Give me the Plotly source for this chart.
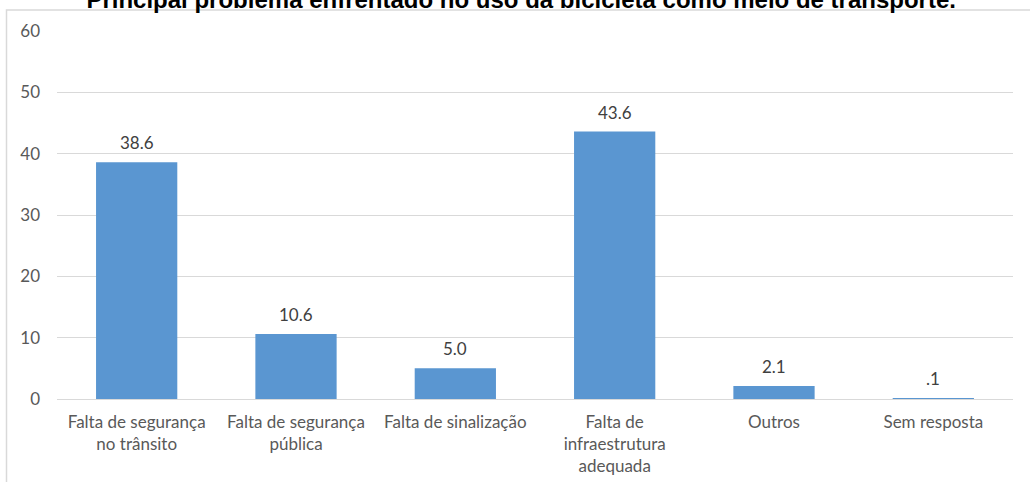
import plotly.graph_objects as go

# Data
categories = [
    "Falta de segurança<br>no trânsito",
    "Falta de segurança<br>pública",
    "Falta de sinalização",
    "Falta de<br>infraestrutura<br>adequada",
    "Outros",
    "Sem resposta",
]
values = [38.6, 10.6, 5.0, 43.6, 2.1, 0.1]
value_labels = ["38.6", "10.6", "5.0", "43.6", "2.1", ".1"]

title_text = "Principal problema enfrentado no uso da bicicleta como meio de transporte."

bar = go.Bar(
    x=categories,
    y=values,
    marker=dict(color="#5a96d1", line=dict(width=0)),
    hoverinfo="x+y",
)

# value labels sit a little higher above the bars than plotly's default
labels = [
    dict(
        x=c, y=v, text=t, xref="x", yref="y",
        showarrow=False, yanchor="bottom", yshift=7,
        font=dict(family="Lato", size=17, color="#404040"),
    )
    for c, v, t in zip(categories, values, value_labels)
]

layout = go.Layout(
    width=1030,
    height=482,
    margin=dict(l=57, r=17, t=31, b=83, autoexpand=False),
    paper_bgcolor="white",
    plot_bgcolor="white",
    showlegend=False,
    bargap=0.49,
    font=dict(family="Lato", size=17, color="#595959"),
    title=dict(
        text="<b>" + title_text + "</b>",
        font=dict(family="Liberation Sans", size=24, color="black"),
        x=0.506,
        xanchor="center",
        y=1 - 8 / 482,
        yanchor="bottom",
        yref="container",
    ),
    xaxis=dict(
        showgrid=False,
        showline=False,
        ticks="",
        automargin=False,
        ticklabelstandoff=11,
        tickfont=dict(family="Lato", size=17, color="#595959"),
    ),
    yaxis=dict(
        range=[0, 60],
        dtick=10,
        showgrid=True,
        gridcolor="#d9d9d9",
        gridwidth=1,
        zeroline=True,
        zerolinecolor="#d9d9d9",
        zerolinewidth=1,
        showline=False,
        ticks="",
        automargin=False,
        ticklabelstandoff=16,
        tickfont=dict(family="Lato", size=17, color="#595959"),
    ),
    annotations=labels,
    shapes=[
        dict(
            type="rect",
            xref="paper",
            yref="paper",
            x0=(6.5 - 57) / 956,
            x1=1.2,
            y0=-0.5,
            y1=1 + (31 - 10) / 368,
            line=dict(color="#d9d9d9", width=1.5),
            fillcolor="rgba(0,0,0,0)",
            layer="below",
        )
    ],
)

fig = go.Figure(data=[bar], layout=layout)
fig.write_html(
    "out.html",
    config={"displayModeBar": False},
    post_script="document.body.style.margin='0';",
)
